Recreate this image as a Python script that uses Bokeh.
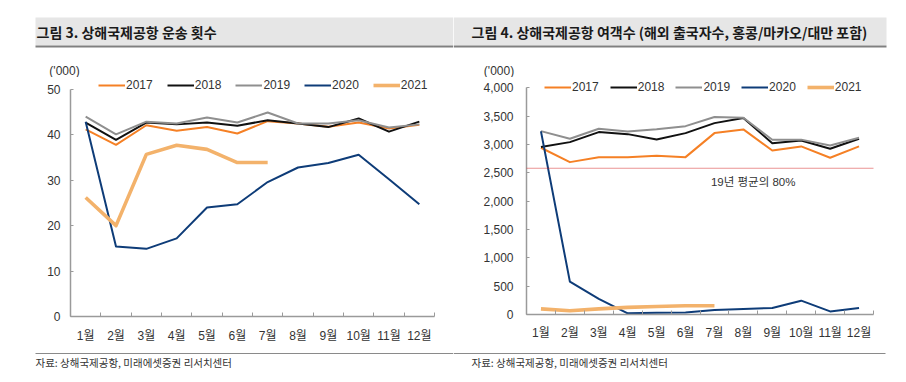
from bokeh.plotting import figure
from bokeh.layouts import row, column
from bokeh.models import (Range1d, FixedTicker, NumeralTickFormatter, Legend,
                          LegendItem, Label, Span)
from bokeh.embed import file_html
from bokeh.resources import INLINE

# ---------------- data ----------------
months = ["1월", "2월", "3월", "4월", "5월", "6월", "7월", "8월", "9월", "10월", "11월", "12월"]
month_idx = list(range(1, 13))
years = ["2017", "2018", "2019", "2020", "2021"]

# 그림 3: 운송 횟수 ('000)
flights_2017 = [41.2, 37.8, 42.1, 40.9, 41.7, 40.3, 43.0, 42.5, 41.8, 42.7, 41.4, 42.2]
flights_2018 = [42.7, 38.9, 42.7, 42.3, 42.7, 42.0, 43.2, 42.5, 41.7, 43.6, 40.7, 42.9]
flights_2019 = [44.0, 40.1, 42.9, 42.5, 43.8, 42.7, 44.9, 42.5, 42.5, 43.2, 41.6, 42.3]
flights_2020 = [42.9, 15.4, 14.9, 17.2, 24.0, 24.7, 29.6, 32.8, 33.8, 35.6, 30.2, 24.7]
flights_2021 = [26.2, 20.0, 35.7, 37.7, 36.8, 33.9, 33.9]
flight_ticks = [0, 10, 20, 30, 40, 50]

# 그림 4: 여객수 ('000)
pax_2017 = [2942, 2688, 2776, 2776, 2800, 2776, 3200, 3265, 2894, 2965, 2765, 2965]
pax_2018 = [2953, 3041, 3218, 3182, 3089, 3200, 3376, 3465, 3023, 3071, 2924, 3100]
pax_2019 = [3235, 3100, 3277, 3230, 3270, 3323, 3485, 3470, 3083, 3085, 2982, 3118]
pax_2020 = [3230, 580, 274, 20, 32, 37, 79, 97, 115, 244, 55, 115]
pax_2021 = [100, 65, 100, 125, 140, 155, 155]
pax_ticks = [0, 500, 1000, 1500, 2000, 2500, 3000, 3500, 4000]
pax_ref_80 = 2580          # 19년 평균의 80%
ref_label = "19년 평균의 80%"

title_3 = "그림 3. 상해국제공항 운송 횟수"
title_4 = "그림 4. 상해국제공항 여객수 (해외 출국자수, 홍콩/마카오/대만 포함)"
source_txt = "자료: 상해국제공항, 미래에셋증권 리서치센터"
unit_txt = "('000)"

# ---------------- styles ----------------
COLORS = ["#F58025", "#111111", "#8F8F8F", "#0E3C78", "#F3B26B"]
WIDTHS = [2, 2, 2, 2, 3.6]
NUM_FONT = "Liberation Sans, Noto Sans CJK KR"
KR_FONT = "Noto Sans CJK KR"
AXIS_GRAY = "#9A9A9A"
TXT = "#333333"

W = 453
HEAD_H = 77
CHART_H = 268
FOOT_H = 37


def make_chart(width, height, mb_left, mb_right, mb_bottom,
               series, ymax, yticks, fmt, y_standoff, x_standoff,
               legend_loc, legend_spacing):
    p = figure(width=width, height=height, x_range=Range1d(0.5, 12.5),
               y_range=Range1d(0, ymax), toolbar_location=None,
               output_backend="svg", min_border_left=mb_left,
               min_border_right=mb_right, min_border_top=0,
               min_border_bottom=mb_bottom, frame_align=False)
    p.outline_line_color = None
    p.grid.visible = False
    p.background_fill_color = "white"
    p.border_fill_color = "white"

    xax = p.xaxis[0]
    xax.ticker = FixedTicker(ticks=month_idx,
                             minor_ticks=[i - 0.5 for i in month_idx] + [month_idx[-1] + 0.5])
    xax.major_label_overrides = {i: m for i, m in zip(month_idx, months)}
    xax.major_tick_in = 0
    xax.major_tick_out = 0
    xax.minor_tick_in = 4
    xax.minor_tick_out = 0
    xax.minor_tick_line_color = AXIS_GRAY
    xax.minor_tick_line_width = 1
    xax.axis_line_color = AXIS_GRAY
    xax.axis_line_width = 1.5
    xax.major_label_standoff = x_standoff
    xax.major_label_text_font = NUM_FONT
    xax.major_label_text_font_size = "12px"
    xax.major_label_text_color = TXT

    yax = p.yaxis[0]
    yax.ticker = FixedTicker(ticks=yticks)
    yax.bounds = (yticks[0], yticks[-1])
    if fmt:
        yax.formatter = NumeralTickFormatter(format=fmt)
    yax.major_tick_in = 3
    yax.major_tick_out = 0
    yax.minor_tick_line_color = None
    yax.major_tick_line_color = AXIS_GRAY
    yax.axis_line_color = AXIS_GRAY
    yax.axis_line_width = 1.5
    yax.major_label_standoff = y_standoff
    yax.major_label_text_font = NUM_FONT
    yax.major_label_text_font_size = "12px"
    yax.major_label_text_color = TXT

    items = []
    for name, vals, col, w in zip(years, series, COLORS, WIDTHS):
        r = p.line(x=month_idx[:len(vals)], y=vals, line_color=col, line_width=w,
                   line_join="round")
        items.append(LegendItem(label=name, renderers=[r]))

    leg = Legend(items=items, orientation="horizontal", location=legend_loc,
                 glyph_width=27, glyph_height=20, label_height=20,
                 label_standoff=1, spacing=legend_spacing, padding=0, margin=0,
                 border_line_color=None, background_fill_alpha=0,
                 label_text_font=NUM_FONT, label_text_font_size="12px",
                 label_text_color=TXT)
    p.add_layout(leg)
    return p


def make_strip(width, height):
    p = figure(width=width, height=height, x_range=Range1d(0, width),
               y_range=Range1d(0, height), toolbar_location=None,
               output_backend="svg", min_border=0, frame_align=False,
               x_axis_location=None, y_axis_location=None)
    p.grid.visible = False
    p.outline_line_color = None
    p.background_fill_color = "white"
    p.border_fill_color = "white"
    return p


def make_head(width, bar_l, bar_r, text_x, text, unit_x):
    p = make_strip(width, HEAD_H)
    p.quad(left=bar_l, right=bar_r, bottom=32, top=60, fill_color="#E6E6E6",
           line_color=None)
    p.quad(left=bar_l, right=bar_r, bottom=30, top=32, fill_color="#808080",
           line_color=None)
    p.add_layout(Label(x=text_x, y=45.5, text=text, text_align="left",
                       text_baseline="middle", text_font=KR_FONT,
                       text_font_size="14px", text_font_style="bold",
                       text_color="#1A1A1A"))
    p.add_layout(Label(x=unit_x, y=7, text=unit_txt, text_align="center",
                       text_baseline="middle", text_font=NUM_FONT,
                       text_font_size="12px", text_color=TXT))
    return p


def make_foot(width, line_l, line_r, text_x):
    p = make_strip(width, FOOT_H)
    p.segment(x0=line_l, x1=line_r, y0=29, y1=29, line_color="#8A8A8A",
              line_width=1)
    p.add_layout(Label(x=text_x, y=20, text=source_txt, text_align="left",
                       text_baseline="middle", text_font=KR_FONT,
                       text_font_size="10.5px", text_color=TXT))
    return p


chart_l = make_chart(W, CHART_H, 70, 19, 27,
                     [flights_2017, flights_2018, flights_2019, flights_2020, flights_2021],
                     52.62, flight_ticks, None, 10, 12, (28, 221), 14)
chart_r = make_chart(W, CHART_H, 73, 33, 31,
                     [pax_2017, pax_2018, pax_2019, pax_2020, pax_2021],
                     4181, pax_ticks, "0,0", 13, 11, (18, 217), 11)
chart_r.add_layout(Span(location=pax_ref_80, dimension="width",
                        line_color="#D42A2A", line_dash="1 1", line_width=1.2))
chart_r.add_layout(Label(x=8.34, y=2330, text=ref_label, text_align="center",
                         text_baseline="middle", text_font=NUM_FONT,
                         text_font_size="11.5px", text_color=TXT))

head_l = make_head(W, 35, 453, 36, title_3, 64)
head_r = make_head(W, 0, 433, 18, title_4, 45.5)
foot_l = make_foot(W, 35, 453, 35)
foot_r = make_foot(W, 0, 432, 18)

layout = row(column(head_l, chart_l, foot_l), column(head_r, chart_r, foot_r))

open("out.html", "w").write(file_html(layout, INLINE))
